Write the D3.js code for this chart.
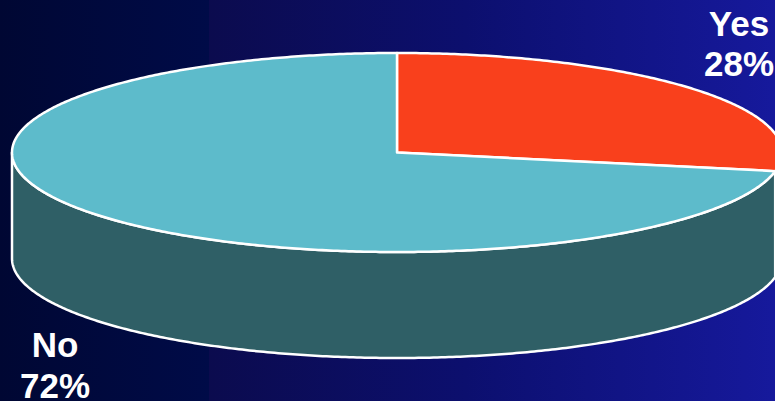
<!DOCTYPE html>
<html><head><meta charset="utf-8">
<script src="https://cdn.jsdelivr.net/npm/d3@7"></script>
<style>html,body{margin:0;padding:0;background:#000733;}svg{display:block;}</style>
</head><body>
<script>
const categories = ["Yes", "No"];
const values = [28, 72];
const labels = ["28%", "72%"];
const topColors = ["#F9401C", "#5DBBCB"];
const sideColors = ["#8E3A26", "#2F5F66"];

const W = 775, H = 401;
const cx = 397, cy = 152.5, rx = 385, ry = 99.5, depth = 106;

const svg = d3.select("body").append("svg").attr("width", W).attr("height", H);
const defs = svg.append("defs");
const g = defs.append("linearGradient").attr("id", "bg").attr("x1", "0").attr("x2", "1").attr("y1", "0").attr("y2", "0");
[[0, "#000733"], [0.27, "#000b48"], [0.27, "#0b0b4e"], [0.6, "#0c0f6e"], [1, "#16199c"]]
  .forEach(([o, c]) => g.append("stop").attr("offset", o).attr("stop-color", c));
svg.append("rect").attr("width", W).attr("height", H).attr("fill", "url(#bg)");

const pie = d3.pie().sort(null).value(d => d)(values);
const px = t => cx + rx * Math.sin(t);
const py = t => cy - ry * Math.cos(t);

function arcPts(a0, a1, dy) {
  const n = Math.max(2, Math.ceil(Math.abs(a1 - a0) / 0.01));
  return d3.range(n + 1).map(i => { const t = a0 + (a1 - a0) * i / n; return [px(t), py(t) + dy]; });
}
const line = d3.line();

// sides (front half: pi/2 .. 3pi/2)
pie.forEach((s, i) => {
  const s0 = Math.max(s.startAngle, Math.PI / 2), s1 = Math.min(s.endAngle, 3 * Math.PI / 2);
  if (s1 <= s0) return;
  const pts = arcPts(s0, s1, 0).concat(arcPts(s1, s0, depth));
  svg.append("path").attr("d", line(pts) + "Z")
    .attr("fill", sideColors[i]).attr("stroke", "#fff").attr("stroke-width", 2.5).attr("stroke-linejoin", "round");
});

// tops
pie.forEach((s, i) => {
  const pts = [[cx, cy]].concat(arcPts(s.startAngle, s.endAngle, 0));
  svg.append("path").attr("d", line(pts) + "Z")
    .attr("fill", topColors[i]).attr("stroke", "#fff").attr("stroke-width", 2.5).attr("stroke-linejoin", "round");
});

// labels
const labelPos = [[739, 36, 76], [55, 357, 398]];
categories.forEach((c, i) => {
  const t = svg.append("text").attr("text-anchor", "middle").attr("fill", "#fff")
    .attr("font-family", "Liberation Sans, Arial, sans-serif").attr("font-weight", "bold").attr("font-size", 35);
  t.append("tspan").attr("x", labelPos[i][0]).attr("y", labelPos[i][1]).text(c);
  t.append("tspan").attr("x", labelPos[i][0]).attr("y", labelPos[i][2]).text(labels[i]);
});
</script>
</body></html>
